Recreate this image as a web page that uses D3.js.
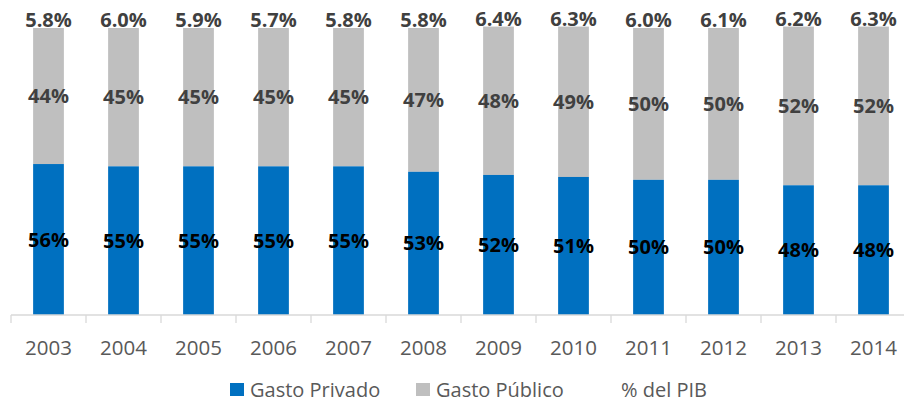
<!DOCTYPE html>
<html>
<head>
<meta charset="utf-8">
<script src="https://cdn.jsdelivr.net/npm/d3@7"></script>
<style>
  body { margin: 0; background: #fff; }
  svg { display: block; font-family: "Open Sans", sans-serif; }
</style>
</head>
<body>
<div id="chart"></div>
<script>
// data
const years = ["2003", "2004", "2005", "2006", "2007", "2008", "2009", "2010", "2011", "2012", "2013", "2014"];
// bar heights as drawn (share of the 0-100 axis)
const privado = [52.6, 51.8, 51.8, 51.8, 51.8, 49.9, 48.8, 48.1, 47.1, 47.1, 45.2, 45.2];
const publico = [47.4, 48.2, 48.2, 48.2, 48.2, 50.1, 51.7, 52.4, 52.9, 52.9, 55.3, 55.3];
// data labels
const privadoLabels = ["56%", "55%", "55%", "55%", "55%", "53%", "52%", "51%", "50%", "50%", "48%", "48%"];
const publicoLabels = ["44%", "45%", "45%", "45%", "45%", "47%", "48%", "49%", "50%", "50%", "52%", "52%"];
const pibLabels = ["5.8%", "6.0%", "5.9%", "5.7%", "5.8%", "5.8%", "6.4%", "6.3%", "6.0%", "6.1%", "6.2%", "6.3%"];
const legendItems = ["Gasto Privado", "Gasto Público", "% del PIB"];

const W = 904, H = 402;
const blue = "#0070c0", grey = "#bfbfbf";

const svg = d3.select("#chart").append("svg")
    .attr("width", W)
    .attr("height", H);

const x = d3.scaleBand()
    .domain(years)
    .range([11, 911])
    .paddingInner(0.59)
    .paddingOuter(0.295);

const y = d3.scaleLinear()
    .domain([0, 100])
    .range([315, 28]);

const rows = years.map((yr, i) => ({
    year: yr, priv: privado[i], pub: publico[i],
    privLabel: privadoLabels[i], pubLabel: publicoLabels[i], pibLabel: pibLabels[i]
}));

const g = svg.append("g");

// grey (público) on top of blue (privado)
g.selectAll("rect.pub")
    .data(rows)
    .join("rect")
    .attr("class", "pub")
    .attr("x", d => x(d.year))
    .attr("width", x.bandwidth())
    .attr("y", d => y(d.priv + d.pub))
    .attr("height", d => y(d.priv) - y(d.priv + d.pub))
    .attr("fill", grey);

g.selectAll("rect.priv")
    .data(rows)
    .join("rect")
    .attr("class", "priv")
    .attr("x", d => x(d.year))
    .attr("width", x.bandwidth())
    .attr("y", d => y(d.priv))
    .attr("height", d => y(0) - y(d.priv))
    .attr("fill", blue);

// x axis
const axis = svg.append("g")
    .attr("transform", `translate(0,${y(0)})`);
axis.append("line")
    .attr("x1", 11).attr("x2", 911)
    .attr("stroke", "#d9d9d9").attr("stroke-width", 1.3);
axis.selectAll("line.tick")
    .data(d3.range(years.length + 1))
    .join("line")
    .attr("class", "tick")
    .attr("x1", i => 11 + i * x.step())
    .attr("x2", i => 11 + i * x.step())
    .attr("y1", 0).attr("y2", 8)
    .attr("stroke", "#d9d9d9").attr("stroke-width", 1.3);
axis.selectAll("text")
    .data(years)
    .join("text")
    .attr("x", d => x(d) + x.bandwidth() / 2)
    .attr("y", 40)
    .attr("text-anchor", "middle")
    .attr("font-size", "20.5px")
    .attr("fill", "#595959")
    .text(d => d);

// labels
const lbl = svg.append("g")
    .attr("font-weight", "bold")
    .attr("font-size", "20px")
    .attr("text-anchor", "middle");

lbl.selectAll("text.privl")
    .data(rows)
    .join("text")
    .attr("class", "privl")
    .attr("x", d => x(d.year) + x.bandwidth() / 2)
    .attr("y", d => (y(0) + y(d.priv)) / 2)
    .attr("dy", "0.35em")
    .attr("fill", "#000")
    .text(d => d.privLabel);

lbl.selectAll("text.publ")
    .data(rows)
    .join("text")
    .attr("class", "publ")
    .attr("x", d => x(d.year) + x.bandwidth() / 2)
    .attr("y", d => (y(d.priv) + y(d.priv + d.pub)) / 2)
    .attr("dy", "0.35em")
    .attr("fill", "#404040")
    .text(d => d.pubLabel);

lbl.selectAll("text.pibl")
    .data(rows)
    .join("text")
    .attr("class", "pibl")
    .attr("x", d => x(d.year) + x.bandwidth() / 2)
    .attr("y", d => y(d.priv + d.pub) - 1)
    .attr("fill", "#404040")
    .text(d => d.pibLabel);

// legend
const legendX = [230, 416, 601];
const legendColors = [blue, grey, null];
const leg = svg.append("g").selectAll("g")
    .data(legendItems)
    .join("g")
    .attr("transform", (d, i) => `translate(${legendX[i]},383)`);
leg.filter((d, i) => legendColors[i] !== null)
    .append("rect")
    .attr("width", 14).attr("height", 13)
    .attr("fill", (d, i) => legendColors[legendItems.indexOf(d)]);
leg.append("text")
    .attr("x", 20)
    .attr("y", 13.5)
    .attr("font-size", "20px")
    .attr("fill", "#595959")
    .text(d => d);
</script>
</body>
</html>
